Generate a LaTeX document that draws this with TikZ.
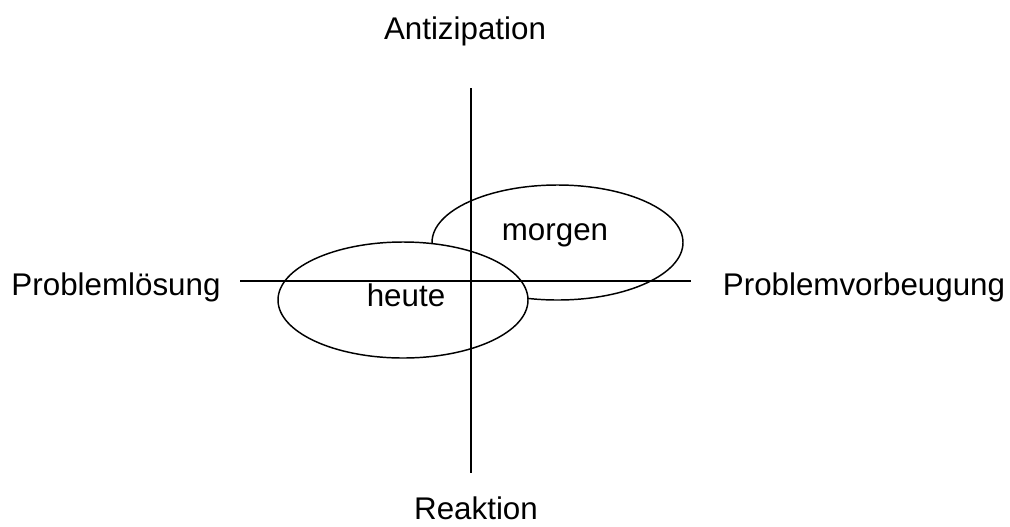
\documentclass[tikz,border=0pt]{standalone}
\usepackage{fontspec}
\setmainfont{Liberation Sans}
\usepackage{tikz}
\usetikzlibrary{shapes.geometric}
\tikzset{
  axis/.style={line width=1.5pt,color=black},
  bubble/.style={ellipse,draw=black,line width=1.1pt,inner sep=0pt},
  pole/.style={font=\fontsize{23.5}{28}\selectfont,anchor=base,inner sep=0pt},
  tag/.style={font=\fontsize{23.5}{28}\selectfont,anchor=base,inner sep=0pt}
}
\begin{document}
\begin{tikzpicture}[x=0.75pt,y=-0.75pt]
  \useasboundingbox (0,0) rectangle (1010,526);
  % Blasen
  \node[bubble, minimum width=188.25pt, minimum height=86.25pt] (morgenell) at (557.5,242.5) {};
  \node[bubble, fill=white, minimum width=187.5pt, minimum height=87pt] (heuteell) at (403,300) {};

  % Achsen
  \coordinate (atop) at (471,88);
  \coordinate (abot) at (471,473);
  \coordinate (aleft) at (240,281);
  \coordinate (aright) at (691,281);
  \draw[axis] (atop) -- (abot);
  \draw[axis] (aleft) -- (aright);

  \node[pole] (antiz) at (465,39) {Antizipation};
  \node[pole] (reakt) at (476,519) {Reaktion};
  \node[pole] (loesung) at (116,295) {Problemlösung};
  \node[pole] (vorbeug) at (864,295) {Problemvorbeugung};

  \node[tag] (morgen) at (555,240) {morgen};
  \node[tag] (heute) at (406,306) {heute};
\end{tikzpicture}
\end{document}
